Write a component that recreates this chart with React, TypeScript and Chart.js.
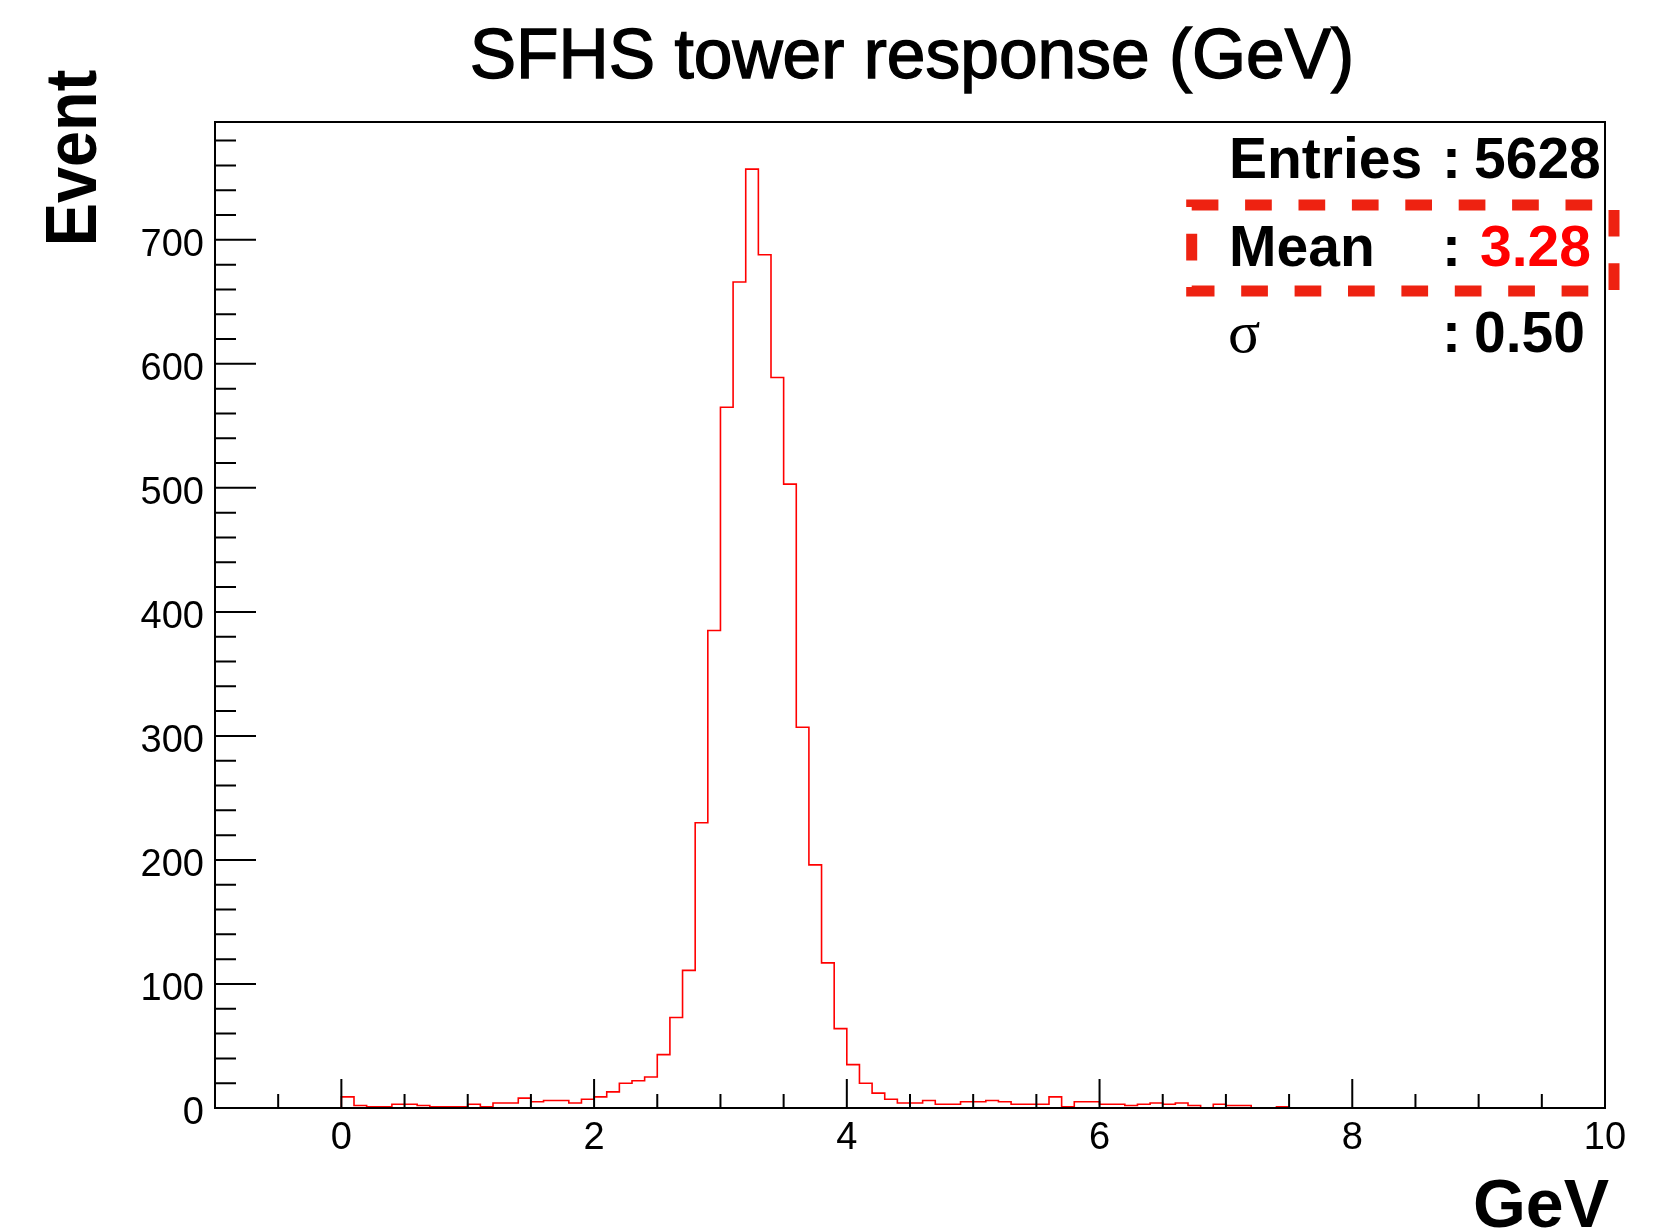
import { useEffect, useRef } from 'react';
import { Chart, registerables } from 'chart.js';

Chart.register(...registerables);

// ---- Data ----
const TITLE = 'SFHS tower response (GeV)';
const X_TITLE = 'GeV';
const Y_TITLE = 'Event';

const BIN_START = -0.7;
const BIN_WIDTH = 0.1;
// bin contents from -0.7 to 10.0 in steps of 0.1
const COUNTS = [
  0, 0, 0, 0, 0, 0, 0,
  9, 2, 1, 1, 3, 3, 2, 1, 1, 1,
  3, 1, 4, 4, 8, 5, 6, 6, 4, 7,
  9, 13, 20, 22, 25, 43, 73, 111, 230, 385,
  565, 666, 757, 688, 589, 503, 307, 196, 117, 64,
  35, 20, 12, 7, 4, 4, 6, 3, 3, 5,
  5, 6, 5, 3, 3, 3, 9, 1, 5, 5,
  3, 3, 2, 3, 4, 3, 4, 2, 0, 3,
  2, 2, 0, 0, 1,
  0, 0, 0, 0, 0, 0, 0, 0, 0, 0,
  0, 0, 0, 0, 0, 0, 0, 0, 0, 0,
  0, 0, 0, 0, 0,
];

const X_MIN = -1;
const X_MAX = 10;
const Y_MIN = 0;
const Y_MAX = 795;
const X_TICKS = [0, 2, 4, 6, 8, 10];
const Y_TICKS = [0, 100, 200, 300, 400, 500, 600, 700];
const X_MAJOR = 2;
const X_MINOR = 0.5;
const Y_MAJOR = 100;
const Y_MINOR = 20;

const STAT_ENTRIES = '5628';
const STAT_MEAN = '3.28';
const STAT_SIGMA = '0.50';

const SANS = '"Liberation Sans", Arial, Helvetica, sans-serif';
const SERIF = '"Liberation Serif", "Times New Roman", serif';

const rootStyle = {
  id: 'rootStyle',
  afterDatasetsDraw(chart: any) {
    const { ctx, chartArea: a, scales } = chart;
    const xs = scales.x;
    const ys = scales.y;
    ctx.save();
    ctx.strokeStyle = '#000';
    ctx.lineWidth = 2;
    ctx.lineCap = 'butt';
    ctx.beginPath();
    const nx = Math.round((X_MAX - X_MIN) / X_MINOR);
    for (let i = 0; i <= nx; i++) {
      const v = X_MIN + i * X_MINOR;
      const major = Math.abs(v / X_MAJOR - Math.round(v / X_MAJOR)) < 1e-6;
      const px = xs.getPixelForValue(v);
      ctx.moveTo(px, a.bottom);
      ctx.lineTo(px, a.bottom - (major ? 29 : 14));
    }
    const ny = Math.floor((Y_MAX - Y_MIN) / Y_MINOR);
    for (let i = 0; i <= ny; i++) {
      const v = Y_MIN + i * Y_MINOR;
      const major = Math.abs(v / Y_MAJOR - Math.round(v / Y_MAJOR)) < 1e-6;
      const py = ys.getPixelForValue(v);
      ctx.moveTo(a.left, py);
      ctx.lineTo(a.left + (major ? 41 : 21), py);
    }
    ctx.stroke();
    ctx.strokeRect(a.left, a.top, a.right - a.left, a.bottom - a.top);
    ctx.restore();
  },
  afterDraw(chart: any) {
    const { ctx, chartArea: a } = chart;
    ctx.save();
    ctx.fillStyle = '#000';
    ctx.strokeStyle = '#000';
    ctx.textBaseline = 'alphabetic';

    // Title
    ctx.font = `69.5px ${SANS}`;
    ctx.textAlign = 'center';
    ctx.lineWidth = 1.4;
    ctx.fillText(TITLE, (a.left + a.right) / 2 + 2, 78);
    ctx.strokeText(TITLE, (a.left + a.right) / 2 + 2, 78);

    // X title
    ctx.font = `bold 68px ${SANS}`;
    ctx.textAlign = 'right';
    ctx.fillText(X_TITLE, 1609, 1227);

    // Y title
    ctx.save();
    ctx.translate(96, 158);
    ctx.rotate(-Math.PI / 2);
    ctx.scale(0.9, 1);
    ctx.font = `bold 72px ${SANS}`;
    ctx.textAlign = 'center';
    ctx.fillText(Y_TITLE, 0, 0);
    ctx.restore();

    // Stats
    ctx.textAlign = 'left';
    ctx.font = `bold 57px ${SANS}`;
    ctx.fillText('Entries', 1229, 178);
    ctx.fillText(':', 1442, 178);
    ctx.fillText(STAT_ENTRIES, 1474, 178);
    ctx.fillText('Mean', 1229, 266);
    ctx.fillText(':', 1442, 266);
    ctx.fillStyle = '#ff0000';
    ctx.fillText(STAT_MEAN, 1480, 266);
    ctx.fillStyle = '#000';
    ctx.fillText(':', 1442, 352);
    ctx.fillText(STAT_SIGMA, 1474, 352);
    ctx.font = `60px ${SERIF}`;
    ctx.fillText('\u03c3', 1228, 352);

    // dashed highlight box
    ctx.strokeStyle = '#ee2211';
    ctx.lineWidth = 11;
    ctx.setLineDash([26.7, 26.7]);
    ctx.beginPath();
    ctx.rect(1191.7, 205, 422.3, 86);
    ctx.stroke();
    ctx.restore();
  },
};

export default function App() {
  const ref = useRef<HTMLCanvasElement | null>(null);

  useEffect(() => {
    const canvas = ref.current;
    if (!canvas) return;
    const points = COUNTS.map((c, i) => ({
      x: Math.round((BIN_START + i * BIN_WIDTH) * 1000) / 1000,
      y: c,
    }));
    points.push({
      x: Math.round((BIN_START + COUNTS.length * BIN_WIDTH) * 1000) / 1000,
      y: COUNTS[COUNTS.length - 1],
    });

    const chart = new Chart(canvas, {
      type: 'line',
      data: {
        datasets: [
          {
            data: points,
            stepped: 'before',
            borderColor: '#ff0000',
            borderWidth: 1.6,
            pointRadius: 0,
            fill: false,
            tension: 0,
          },
        ],
      },
      options: {
        responsive: false,
        animation: false,
        devicePixelRatio: 1,
        events: [],
        layout: { padding: { left: 0, top: 122, right: 71, bottom: 0 } },
        plugins: {
          legend: { display: false },
          tooltip: { enabled: false },
          title: { display: false },
        },
        scales: {
          x: {
            type: 'linear',
            min: X_MIN,
            max: X_MAX,
            grid: { display: false, drawTicks: false, tickLength: 0 },
            border: { display: false },
            afterBuildTicks: (s: any) => {
              s.ticks = X_TICKS.map((v) => ({ value: v }));
            },
            ticks: {
              autoSkip: false,
              maxRotation: 0,
              padding: 8,
              color: '#000',
              font: { family: SANS, size: 38 },
            },
            afterFit: (s: any) => {
              s.height = 123;
            },
          },
          y: {
            type: 'linear',
            min: Y_MIN,
            max: Y_MAX,
            grid: { display: false, drawTicks: false, tickLength: 0 },
            border: { display: false },
            afterBuildTicks: (s: any) => {
              s.ticks = Y_TICKS.map((v) => ({ value: v }));
            },
            ticks: {
              autoSkip: false,
              padding: 11,
              labelOffset: 6,
              color: '#000',
              font: { family: SANS, size: 38 },
            },
            afterFit: (s: any) => {
              s.width = 215;
            },
          },
        },
      },
      plugins: [rootStyle],
    });
    return () => chart.destroy();
  }, []);

  return (
    <div style={{ position: 'absolute', left: 0, top: 0, width: 1676, height: 1231 }}>
      <canvas ref={ref} width={1676} height={1231} style={{ display: 'block' }} />
    </div>
  );
}
